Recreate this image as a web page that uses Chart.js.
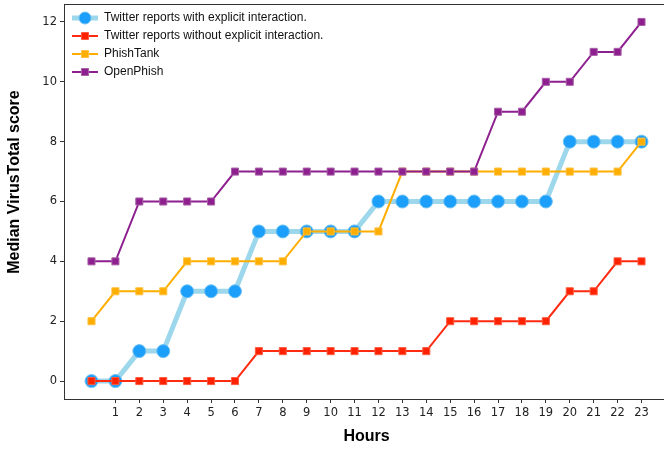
<!DOCTYPE html>
<html>
<head>
<meta charset="utf-8">
<script src="https://cdn.jsdelivr.net/npm/chart.js@4/dist/chart.umd.min.js"></script>
<style>
  html, body { margin: 0; padding: 0; background: #fff; overflow: hidden; }
  #wrap { width: 680px; height: 449px; }
</style>
</head>
<body>
<div id="wrap"><canvas id="chart" width="680" height="449"></canvas></div>
<script>
const hours = [0, 1, 2, 3, 4, 5, 6, 7, 8, 9, 10, 11, 12, 13, 14, 15, 16, 17, 18, 19, 20, 21, 22, 23];
const hourTicks = [1, 2, 3, 4, 5, 6, 7, 8, 9, 10, 11, 12, 13, 14, 15, 16, 17, 18, 19, 20, 21, 22, 23];
const scoreTicks = [0, 2, 4, 6, 8, 10, 12];

const seriesNames = [
    "Twitter reports with explicit interaction.",
    "Twitter reports without explicit interaction.",
    "PhishTank",
    "OpenPhish"
];
const twitterExplicit = [0, 0, 1, 1, 3, 3, 3, 5, 5, 5, 5, 5, 6, 6, 6, 6, 6, 6, 6, 6, 8, 8, 8, 8];
const twitterNoExplicit = [0, 0, 0, 0, 0, 0, 0, 1, 1, 1, 1, 1, 1, 1, 1, 2, 2, 2, 2, 2, 3, 3, 4, 4];
const phishTank = [2, 3, 3, 3, 4, 4, 4, 4, 4, 5, 5, 5, 5, 7, 7, 7, 7, 7, 7, 7, 7, 7, 7, 8];
const openPhish = [4, 4, 6, 6, 6, 6, 7, 7, 7, 7, 7, 7, 7, 7, 7, 7, 7, 9, 9, 10, 10, 11, 11, 12];

const yTitle = "Median VirusTotal score";

function pts(vals) {
    return vals.map((v, i) => ({ x: hours[i], y: v }));
}

// little line+marker images for the legend
function legendIcon(lineColor, lineWidth, markColor, edgeColor, shape, size) {
    const c = document.createElement("canvas");
    c.width = 26;
    c.height = 14;
    const g = c.getContext("2d");
    g.strokeStyle = lineColor;
    g.lineWidth = lineWidth;
    g.beginPath();
    g.moveTo(0, 7);
    g.lineTo(26, 7);
    g.stroke();
    g.fillStyle = markColor;
    g.strokeStyle = edgeColor;
    g.lineWidth = 1;
    g.beginPath();
    if (shape === "circle") {
        g.arc(13, 7, size, 0, Math.PI * 2);
    } else {
        g.rect(13 - size, 7 - size, size * 2, size * 2);
    }
    g.fill();
    g.stroke();
    return c;
}

const icons = [
    legendIcon("#9dd7ec", 5, "#1c9ffa", "#6cc0f3", "circle", 6),
    legendIcon("#ff2a10", 2, "#ff2200", "#ff5a40", "rect", 3.5),
    legendIcon("#ffae00", 2, "#ffae00", "#ffc040", "rect", 3.5),
    legendIcon("#8d1f8e", 2, "#8d1f8e", "#a860a8", "rect", 3.5)
];

// axes box + rotated y title; pin the plot top at y=4 and the legend in the corner
const frame = {
    id: "frame",
    afterLayout(chart) {
        const a = chart.chartArea;
        const y = chart.scales.y;
        a.top = 4;
        a.height = a.bottom - a.top;
        y.top = 4;
        y.height = y.bottom - y.top;
        y.configure();
        chart.legend.top = 6;
        chart.legend.left = 66;
    },
    afterDraw(chart) {
        const a = chart.chartArea;
        const ctx = chart.ctx;
        ctx.save();
        ctx.strokeStyle = "#333";
        ctx.lineWidth = 1;
        ctx.strokeRect(a.left + 0.5, a.top + 0.5, a.right - a.left, a.bottom - a.top);
        ctx.translate(15, 182);
        ctx.rotate(-Math.PI / 2);
        ctx.fillStyle = "#000";
        ctx.font = "bold 16px 'Liberation Sans'";
        ctx.textAlign = "center";
        ctx.textBaseline = "middle";
        ctx.fillText(yTitle, 0, 0);
        ctx.restore();
    }
};

let chart;

function initChart() {
    const ctx = document.getElementById("chart").getContext("2d");

    chart = new Chart(ctx, {
        type: "line",
        data: {
            datasets: [{
                label: seriesNames[0],
                data: pts(twitterExplicit),
                borderColor: "#9dd7ec",
                borderWidth: 5,
                pointStyle: "circle",
                pointRadius: 6.5,
                pointBackgroundColor: "#1c9ffa",
                pointBorderColor: "#6cc0f3",
                pointBorderWidth: 1,
                order: 4
            }, {
                label: seriesNames[1],
                data: pts(twitterNoExplicit),
                borderColor: "#ff2a10",
                borderWidth: 2,
                pointStyle: "rect",
                pointRadius: 5,
                pointBackgroundColor: "#ff2200",
                pointBorderColor: "#ff5a40",
                pointBorderWidth: 1,
                order: 3
            }, {
                label: seriesNames[2],
                data: pts(phishTank),
                borderColor: "#ffae00",
                borderWidth: 2,
                pointStyle: "rect",
                pointRadius: 5,
                pointBackgroundColor: "#ffae00",
                pointBorderColor: "#ffc040",
                pointBorderWidth: 1,
                order: 2
            }, {
                label: seriesNames[3],
                data: pts(openPhish),
                borderColor: "#8d1f8e",
                borderWidth: 2,
                pointStyle: "rect",
                pointRadius: 5,
                pointBackgroundColor: "#8d1f8e",
                pointBorderColor: "#a860a8",
                pointBorderWidth: 1,
                order: 1
            }]
        },
        options: {
            responsive: false,
            animation: false,
            layout: { padding: { left: 0, top: 0, right: 11, bottom: 0 } },
            plugins: {
                tooltip: { enabled: false },
                legend: {
                    position: "chartArea",
                    align: "start",
                    labels: {
                        usePointStyle: true,
                        pointStyleWidth: 26,
                        padding: 6,
                        color: "#111",
                        font: { family: "Liberation Sans", size: 12 },
                        generateLabels: () => seriesNames.map((name, i) => ({
                            text: name,
                            pointStyle: icons[i],
                            datasetIndex: i,
                            hidden: false,
                            lineWidth: 0,
                            fontColor: "#111"
                        }))
                    }
                }
            },
            scales: {
                x: {
                    type: "linear",
                    min: -1.15,
                    max: 24.15,
                    afterBuildTicks: axis => { axis.ticks = hourTicks.map(v => ({ value: v })); },
                    afterFit: axis => { axis.height = 50; },
                    grid: { drawOnChartArea: false, drawTicks: true, tickLength: 4, color: "#333" },
                    border: { display: true, color: "#333" },
                    ticks: {
                        autoSkip: false,
                        maxRotation: 0,
                        padding: 3,
                        color: "#222",
                        font: { family: "DejaVu Sans", size: 11.5 }
                    },
                    title: {
                        display: true,
                        text: "Hours",
                        color: "#000",
                        padding: { top: 0, bottom: 3 },
                        font: { family: "Liberation Sans", size: 16, weight: "bold" }
                    }
                },
                y: {
                    min: -0.6,
                    max: 12.6,
                    afterBuildTicks: axis => { axis.ticks = scoreTicks.map(v => ({ value: v })); },
                    afterFit: axis => {
                        axis.width = 64;
                        axis.paddingTop = 0;
                        axis.paddingBottom = 0;
                    },
                    grid: { drawOnChartArea: false, drawTicks: true, tickLength: 4, color: "#333" },
                    border: { display: true, color: "#333" },
                    ticks: {
                        padding: 3,
                        color: "#222",
                        font: { family: "DejaVu Sans", size: 11.5 }
                    }
                }
            }
        },
        plugins: [frame]
    });
}

initChart();
</script>
</body>
</html>
